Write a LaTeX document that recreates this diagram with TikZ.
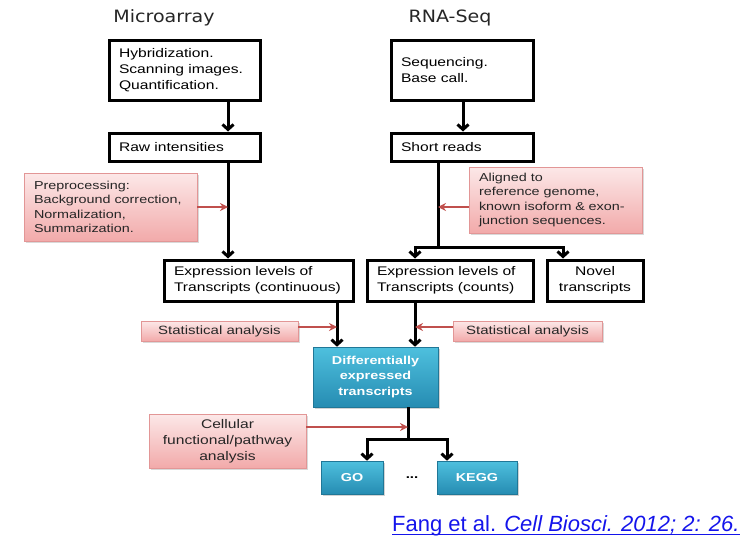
\documentclass[tikz,border=0pt]{standalone}
\usepackage{fontspec}
\setmainfont{Liberation Sans}
\newfontfamily\titlefont[FakeStretch=1.12]{DejaVu Sans}
\newfontfamily\boxfont[FakeStretch=1.25]{Liberation Sans}
\usetikzlibrary{positioning, arrows.meta, shadows}

\definecolor{pinktop}{RGB}{252,232,232}
\definecolor{pinkbot}{RGB}{242,170,170}
\definecolor{pinkline}{RGB}{226,150,150}
\definecolor{arrowred}{RGB}{192,80,77}
\definecolor{cyantop}{RGB}{78,192,222}
\definecolor{cyanbot}{RGB}{38,140,178}
\definecolor{citeblue}{RGB}{20,20,235}

\tikzset{
    stepbox/.style={draw, line width=3pt, fill=white, align=left, inner xsep=10pt,
        font=\boxfont\fontsize{12.5}{16}\selectfont},
    notebox/.style={top color=pinktop, bottom color=pinkbot, draw=pinkline, line width=0.8pt,
        drop shadow={opacity=0.3, shadow xshift=2pt, shadow yshift=-2pt},
        inner xsep=10pt, text=black!85, font=\boxfont\fontsize{11.5}{14.3}\selectfont},
    resultbox/.style={top color=cyantop, bottom color=cyanbot, draw=cyanbot!85!black, line width=0.6pt,
        drop shadow={opacity=0.35, shadow xshift=2pt, shadow yshift=-2pt},
        align=center, text=white, font=\boxfont\bfseries\fontsize{11.5}{15.5}\selectfont},
    flow/.style={draw, line width=3pt, -{Straight Barb[length=5pt,width=11pt]}},
    trunk/.style={draw, line width=3pt},
    feed/.style={draw=arrowred, line width=2.5pt, -{Stealth[length=8pt,width=8pt]}}
}

\begin{document}
\begin{tikzpicture}[x=1pt, y=-1pt]
        \useasboundingbox (0,0) rectangle (754,551);
        \node[font=\titlefont\fontsize{17}{20}\selectfont, text=black!85] (ma) at (164,18) {Microarray};
        \node[font=\titlefont\fontsize{17}{20}\selectfont, text=black!85] (rs) at (450,18) {RNA-Seq};

        \node[stepbox, text width=131pt, minimum height=59pt] (hyb) at (184.5,70.5) {Hybridization.\\Scanning images.\\Quantification.};
        \node[stepbox, text width=131pt, minimum height=28pt] (raw) at (184.5,147) {Raw intensities};
        \node[stepbox, text width=122pt, minimum height=59pt] (seq) at (462,70.5) {Sequencing.\\Base call.};
        \node[stepbox, text width=122pt, minimum height=28pt] (short) at (462,147) {Short reads};
        \node[stepbox, text width=169pt, minimum height=41pt] (exprc) at (258.5,280.5) {Expression levels of\\Transcripts (continuous)};
        \node[stepbox, text width=146pt, minimum height=41pt] (exprn) at (450,280.5) {Expression levels of\\Transcripts (counts)};
        \node[stepbox, text width=76pt, minimum height=41pt, align=center] (novel) at (595,280.5) {Novel\\transcripts};

        \node[notebox, align=left, text width=153pt, minimum height=68pt] (pre) at (110.5,207) {Preprocessing:\\Background correction,\\Normalization,\\Summarization.};
        \node[notebox, align=left, text width=153pt, minimum height=66pt] (aligned) at (555.5,200) {Aligned to\\reference genome,\\known isoform \& exon-\\junction sequences.};
        \node[notebox, minimum width=157pt, minimum height=20pt, inner ysep=1pt, font=\boxfont\fontsize{12}{14}\selectfont] (statl) at (219.5,331) {Statistical analysis};
        \node[notebox, minimum width=149pt, minimum height=20pt, inner ysep=1pt, font=\boxfont\fontsize{12}{14}\selectfont] (statr) at (527.5,331) {Statistical analysis};
        \node[notebox, align=center, text width=137pt, minimum height=54pt, font=\boxfont\fontsize{12.5}{16}\selectfont] (cell) at (227.5,441) {Cellular\\functional/pathway\\analysis};

        \node[resultbox, minimum width=125pt, minimum height=60pt] (de) at (375.5,377) {Differentially\\expressed\\transcripts};
        \node[resultbox, minimum width=62pt, minimum height=33pt] (go) at (352,477.5) {GO};
        \node[resultbox, minimum width=80pt, minimum height=33pt] (kegg) at (477,477.5) {KEGG};
        \node[font=\boxfont\bfseries\fontsize{12}{14}\selectfont] (dots) at (412,478) {...};

        \node[anchor=base west, text=citeblue, inner sep=0pt, font=\fontsize{22}{26}\selectfont] (cite) at (392,531) {Fang et al. \textit{Cell Biosci. 2012; 2: 26.}};
        \draw[citeblue, line width=1pt] ([yshift=-3pt]cite.base west) -- ([yshift=-3pt]cite.base east);

        \coordinate (mcol) at (228,0);
        \coordinate (scol) at (463,0);
        \coordinate (rcol) at (438,0);
        \coordinate (ccol) at (337,0);
        \coordinate (ncol) at (415,0);
        \coordinate (vcol) at (563,0);
        \coordinate (dcol) at (408,0);
        \coordinate (gcol) at (367,0);
        \coordinate (kcol) at (447,0);
        \coordinate (rsfork) at (438,247);
        \coordinate (defork) at (408,439);

        \draw[flow] (hyb.south -| mcol) -- (raw.north -| mcol);
        \draw[flow] (raw.south -| mcol) -- (exprc.north -| mcol);
        \draw[flow] (seq.south -| scol) -- (short.north -| scol);
        \draw[trunk] (short.south -| rcol) -- (rsfork);
        \draw[flow] (rsfork) -| (exprn.north -| ncol);
        \draw[flow] (rsfork) -| (novel.north -| vcol);
        \draw[flow] (exprc.south -| ccol) -- (de.north -| ccol);
        \draw[flow] (exprn.south -| ncol) -- (de.north -| ncol);
        \draw[trunk] (de.south -| dcol) -- (defork);
        \draw[flow] (defork) -| (go.north -| gcol);
        \draw[flow] (defork) -| (kegg.north -| kcol);

        \draw[feed] (pre.east) -- (pre.east -| mcol);
        \draw[feed] ([yshift=-7pt]aligned.west) -- ([yshift=-7pt]aligned.west -| rcol);
        \draw[feed] ([yshift=4pt]statl.east) -- ([yshift=4pt]statl.east -| ccol);
        \draw[feed] ([yshift=4pt]statr.west) -- ([yshift=4pt]statr.west -| ncol);
        \draw[feed] ([yshift=14pt]cell.east) -- ([yshift=14pt]cell.east -| dcol);
    \end{tikzpicture}
\end{document}
